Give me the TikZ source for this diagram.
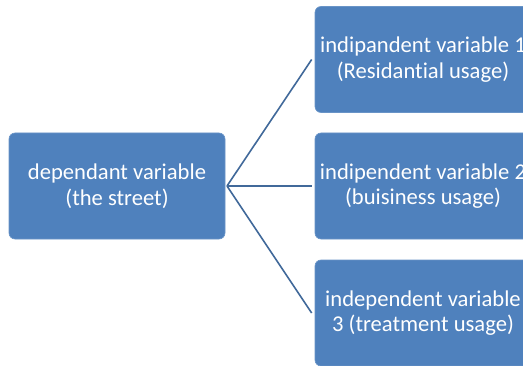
\documentclass[tikz,border=0pt]{standalone}
\usepackage{fontspec}
\setmainfont{Carlito}[Ligatures={NoCommon}]
\usetikzlibrary{positioning}

\definecolor{boxblue}{HTML}{4F81BD}
\definecolor{linkblue}{HTML}{41699A}

\begin{document}
\begin{tikzpicture}[
    x=1pt, y=1pt,
    box/.style={draw=boxblue!85!white, fill=boxblue, rounded corners=6pt, minimum width=216pt, minimum height=106pt, align=center, text=white, font=\fontsize{22.6}{25.5}\selectfont, line width=0.6pt, inner sep=2pt},
    link/.style={draw=linkblue, line width=1.6pt}
]
\useasboundingbox (0,0) rectangle (523,365);
\clip (0,0) rectangle (523,365);

\node[box] (street) at (117,179) {dependant variable\\(the street)};
\node[box] (resid) at (423,305.5) {indipandent variable 1\\(Residantial usage)};
\node[box] (busi) at (423,179) {indipendent variable 2\\(buisiness usage)};
\node[box] (treat) at (423,52) {independent variable\\3 (treatment usage)};

\coordinate (hub) at (227,179);

\draw[link] (hub) -- ([xshift=-3pt]resid.west);
\draw[link] (hub) -- ([xshift=-3pt]busi.west);
\draw[link] (hub) -- ([xshift=-3pt]treat.west);
\end{tikzpicture}
\end{document}
